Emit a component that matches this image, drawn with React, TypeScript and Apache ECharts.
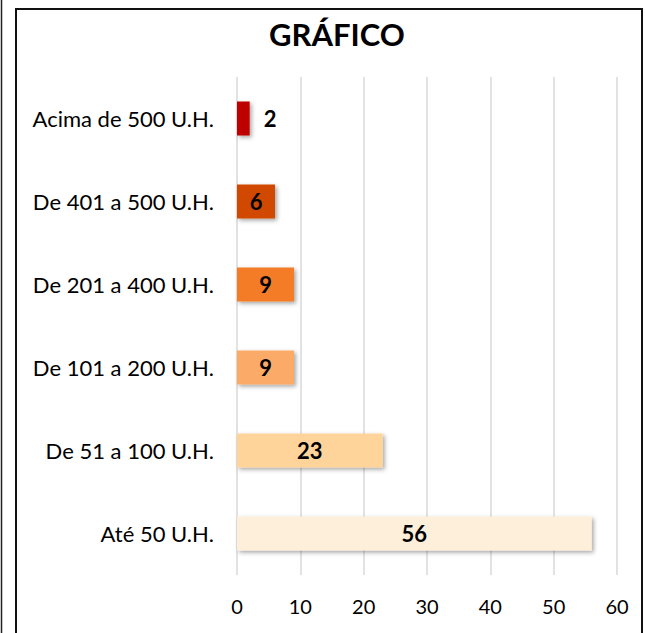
import React, { useEffect, useRef } from "react";
import * as echarts from "echarts";

const categories = [
  "Até 50 U.H.",
  "De 51 a 100 U.H.",
  "De 101 a 200 U.H.",
  "De 201 a 400 U.H.",
  "De 401 a 500 U.H.",
  "Acima de 500 U.H.",
];
const values = [56, 23, 9, 9, 6, 2];
const barColors = ["#FEEFDA", "#FED49B", "#FCAA67", "#F47C26", "#D14A02", "#BF0000"];
const xTicks = [0, 10, 20, 30, 40, 50, 60];
const title = "GRÁFICO";

const FONT = "Lato, 'Open Sans', sans-serif";

export default function App() {
  const ref = useRef<HTMLDivElement>(null);
  useEffect(() => {
    if (!ref.current) return;
    const chart = echarts.init(ref.current, undefined, { renderer: "svg" });
    chart.setOption({
      animation: false,
      backgroundColor: "#fff",
      title: {
        text: title,
        left: 332,
        textAlign: "center",
        top: 13,
        textStyle: { fontFamily: FONT, fontSize: 31, fontWeight: "bold", color: "#000" },
      },
      graphic: [
        {
          type: "line",
          shape: { x1: 1.5, y1: 0, x2: 1.5, y2: 633 },
          style: { stroke: "#222", lineWidth: 1.5 },
        },
        {
          type: "rect",
          shape: { x: 16, y: 9, width: 626, height: 640 },
          style: { fill: "none", stroke: "#111", lineWidth: 2 },
        },
      ],
      grid: { left: 237, right: 28, top: 77, bottom: 58 },
      xAxis: {
        type: "value",
        min: 0,
        max: xTicks[xTicks.length - 1],
        interval: 10,
        axisLine: { show: false },
        axisTick: { show: false },
        splitLine: { show: true, lineStyle: { color: "#D9D9D9", width: 1.5 } },
        axisLabel: { fontFamily: FONT, fontSize: 20, color: "#000", margin: 21 },
      },
      yAxis: {
        type: "category",
        data: categories,
        axisLine: { show: false },
        axisTick: { show: false },
        axisLabel: { fontFamily: FONT, fontSize: 22, color: "#000", margin: 23 },
      },
      series: [
        {
          type: "bar",
          barWidth: 34,
          data: values.map((v, i) => ({
            value: v,
            itemStyle: { color: barColors[i] },
            label:
              v < 4
                ? { position: "right", distance: 14 }
                : { position: "inside" },
          })),
          itemStyle: {
            shadowBlur: 4,
            shadowOffsetX: 2,
            shadowOffsetY: 2,
            shadowColor: "rgba(0,0,0,0.35)",
          },
          label: {
            show: true,
            fontFamily: FONT,
            fontSize: 22,
            fontWeight: "bold",
            color: "#000",
          },
        },
      ],
    });
    return () => chart.dispose();
  }, []);
  return (
    <div
      ref={ref}
      style={{ position: "absolute", left: 0, top: 0, width: 645, height: 633 }}
    />
  );
}
